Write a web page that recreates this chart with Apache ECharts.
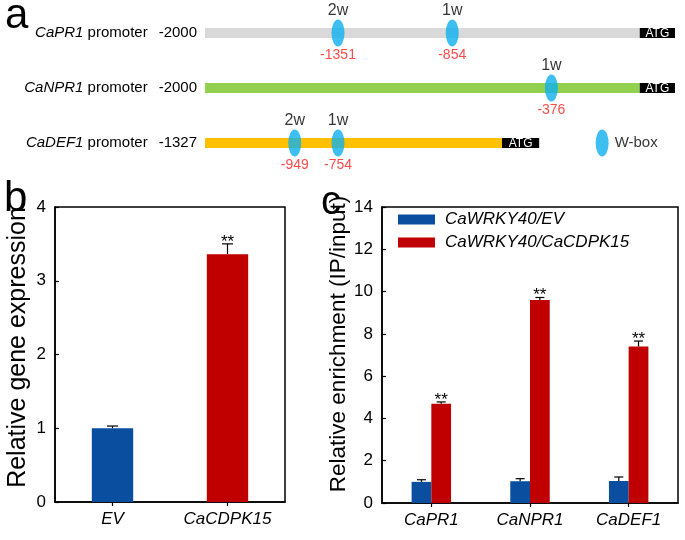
<!DOCTYPE html>
<html><head><meta charset="utf-8">
<script src="https://cdn.jsdelivr.net/npm/echarts@6/dist/echarts.min.js"></script>
<style>html,body{margin:0;padding:0;background:#fff}#c{width:685px;height:540px}</style>
</head><body><div id="c"></div>
<script>
// ---------- Panel a (schematic promoter map, positions in schematic units 0-100) ----------
const promoters = ['CaPR1', 'CaNPR1', 'CaDEF1'];
const promoterStart = ['-2000', '-2000', '-1327'];
const promoterEnd = [92.5, 92.5, 63.2];   // where ATG begins
const atgEnd = [100, 100, 71.1];
const wboxRow = [0, 0, 1, 2, 2];
const wboxPos = [28.3, 52.6, 73.7, 19.1, 28.3];
const wboxName = ['2w', '1w', '1w', '2w', '1w'];
const wboxSite = ['-1351', '-854', '-376', '-949', '-754'];
const wboxKeyPos = [84.5];
const wboxKeyRow = [2];
const wboxKeyLabel = ['W-box'];

// ---------- Panel b ----------
const groupsB = ['EV', 'CaCDPK15'];
const exprB = [1.00, 3.36];
const errB = [0.03, 0.14];
const sigB = ['', '**'];

// ---------- Panel c ----------
const genesC = ['CaPR1', 'CaNPR1', 'CaDEF1'];
const seriesNamesC = ['CaWRKY40/EV', 'CaWRKY40/CaCDPK15'];
const evC = [1.00, 1.03, 1.04];
const evErrC = [0.10, 0.12, 0.19];
const cdpkC = [4.70, 9.60, 7.40];
const cdpkErrC = [0.08, 0.12, 0.26];
const sigEvC = ['', '', ''];
const sigCdpkC = ['**', '**', '**'];

const FONT = '"Liberation Sans", Arial, Helvetica, sans-serif';
const rowColors = ['#d9d9d9', '#92d050', '#ffc000'];
const BLUE = '#0a4f9f', RED = '#c00000', WBOX = '#0db0ee';
const barColorsB = [BLUE, RED];

const chart = echarts.init(document.getElementById('c'), null, { renderer: 'canvas' });

function makeErr(gi, vals, errs, sigs, offsetFrac, capW) {
  return {
    type: 'custom', xAxisIndex: gi, yAxisIndex: gi, z: 5,
    encode: { x: 0, y: [1, 2] },
    data: vals.map((v, i) => [i, v, errs[i]]),
    renderItem(params, api) {
      const i = api.value(0), v = api.value(1), e = api.value(2);
      const band = api.size([1, 0])[0];
      const dx = band * offsetFrac;
      const b = api.coord([i, v]), t = api.coord([i, v + e]);
      const x = b[0] + dx;
      const children = [
        { type: 'line', shape: { x1: x, y1: b[1], x2: x, y2: t[1] }, style: { stroke: '#000', lineWidth: 1.2 } },
        { type: 'line', shape: { x1: x - capW / 2, y1: t[1], x2: x + capW / 2, y2: t[1] }, style: { stroke: '#000', lineWidth: 1.2 } }
      ];
      const s = sigs[params.dataIndex];
      if (s) children.push({ type: 'text', style: { text: s, x: x, y: t[1] - 2, align: 'center', verticalAlign: 'middle', font: '17px ' + FONT, fill: '#000' } });
      return { type: 'group', children };
    }
  };
}

const valueAxisCommon = {
  type: 'value',
  axisLine: { show: true, lineStyle: { color: '#000', width: 1.5 } },
  axisTick: { show: true, inside: true, length: 4, lineStyle: { color: '#000', width: 1.2 } },
  splitLine: { show: false },
  axisLabel: { color: '#000', fontSize: 17, fontFamily: FONT, margin: 9 },
  nameLocation: 'middle'
};
const catAxisCommon = {
  type: 'category',
  axisLine: { show: true, lineStyle: { color: '#000', width: 1.5 } },
  axisTick: { show: true, alignWithLabel: true, length: 4, lineStyle: { color: '#000', width: 1.2 } },
  axisLabel: { color: '#000', fontSize: 17, fontStyle: 'italic', fontFamily: FONT, margin: 9 }
};

const option = {
  animation: false,
  backgroundColor: '#fff',
  textStyle: { fontFamily: FONT },
  grid: [
    { left: 205, right: 10, top: 5.5, height: 165 },
    { left: 55, width: 230, top: 207, height: 295, show: true, borderColor: '#000', borderWidth: 1.5, backgroundColor: 'transparent' },
    { left: 382, width: 296, top: 207, height: 296, show: true, borderColor: '#000', borderWidth: 1.5, backgroundColor: 'transparent' }
  ],
  xAxis: [
    { type: 'value', gridIndex: 0, min: 0, max: 100, show: false },
    Object.assign({}, catAxisCommon, { gridIndex: 1, data: groupsB }),
    Object.assign({}, catAxisCommon, { gridIndex: 2, data: genesC })
  ],
  yAxis: [
    {
      type: 'category', gridIndex: 0, inverse: true, data: promoters,
      axisLine: { show: false }, axisTick: { show: false }, splitLine: { show: false },
      axisLabel: {
        margin: 8, color: '#000',
        formatter: (v, idx) => `{i|${v}}{n| promoter}{g|${promoterStart[idx]}}`,
        rich: {
          i: { fontStyle: 'italic', fontSize: 15, fontFamily: FONT, color: '#000' },
          n: { fontSize: 15, fontFamily: FONT, color: '#000' },
          g: { fontSize: 15, fontFamily: FONT, color: '#000', padding: [0, 0, 0, 11] }
        }
      }
    },
    Object.assign({}, valueAxisCommon, {
      gridIndex: 1, min: 0, max: 4, interval: 1,
      name: 'Relative gene expression', nameGap: 24,
      nameTextStyle: { fontSize: 25, color: '#000', fontFamily: FONT, padding: [0, 0, 0, 14] }
    }),
    Object.assign({}, valueAxisCommon, {
      gridIndex: 2, min: 0, max: 14, interval: 2,
      name: 'Relative enrichment (IP/input)', nameGap: 28,
      nameTextStyle: { fontSize: 22.5, color: '#000', fontFamily: FONT, padding: [0, 0, 0, 22] }
    })
  ],
  legend: {
    data: seriesNamesC, orient: 'vertical', left: 398, top: 211, padding: 0,
    itemWidth: 37, itemHeight: 10, itemGap: 6, icon: 'rect',
    textStyle: { fontSize: 17, fontStyle: 'italic', color: '#000', fontFamily: FONT, padding: [0, 0, 0, 5] }
  },
  graphic: [
    { type: 'text', x: 5, y: 16.5, style: { text: 'a', font: '42px ' + FONT, fill: '#000', verticalAlign: 'middle' } },
    { type: 'text', x: 4, y: 199.5, style: { text: 'b', font: '42px ' + FONT, fill: '#000', verticalAlign: 'middle' } },
    { type: 'text', x: 321, y: 202.5, style: { text: 'c', font: '40px ' + FONT, fill: '#000', verticalAlign: 'middle' } }
  ],
  series: [
    // promoter bars with ATG boxes
    {
      type: 'custom', xAxisIndex: 0, yAxisIndex: 0, z: 1,
      encode: { x: [0, 1, 2], y: 3 },
      data: promoters.map((p, i) => [0, promoterEnd[i], atgEnd[i], i]),
      renderItem(params, api) {
        const r = api.value(3);
        const s = api.coord([api.value(0), r]);
        const e = api.coord([api.value(1), r]);
        const a = api.coord([api.value(2), r]);
        const h = 10;
        return {
          type: 'group', children: [
            { type: 'rect', shape: { x: s[0], y: s[1] - h / 2, width: e[0] - s[0], height: h }, style: { fill: rowColors[r] } },
            { type: 'rect', shape: { x: e[0], y: s[1] - h / 2, width: a[0] - e[0], height: h }, style: { fill: '#000' } },
            { type: 'text', style: { text: 'ATG', x: (e[0] + a[0]) / 2, y: s[1] + 0.5, align: 'center', verticalAlign: 'middle', font: '12px ' + FONT, fill: '#fff' } }
          ]
        };
      }
    },
    // W-box ellipses with names above
    {
      type: 'scatter', xAxisIndex: 0, yAxisIndex: 0, z: 3,
      symbol: 'circle', symbolSize: [13, 27], itemStyle: { color: WBOX },
      data: wboxPos.map((x, i) => ({ value: [x, wboxRow[i]], name: wboxName[i] })),
      label: { show: true, position: 'top', distance: 1, formatter: '{b}', color: '#000', fontSize: 16, fontFamily: FONT }
    },
    // W-box site positions below (red)
    {
      type: 'scatter', xAxisIndex: 0, yAxisIndex: 0, z: 2,
      symbol: 'circle', symbolSize: [13, 27], itemStyle: { color: 'rgba(0,0,0,0)' },
      data: wboxPos.map((x, i) => ({ value: [x, wboxRow[i]], name: wboxSite[i] })),
      label: { show: true, position: 'bottom', distance: 2, formatter: '{b}', color: '#ff1a1a', fontSize: 14, fontFamily: FONT }
    },
    // W-box key
    {
      type: 'scatter', xAxisIndex: 0, yAxisIndex: 0, z: 3,
      symbol: 'circle', symbolSize: [13, 27], itemStyle: { color: WBOX },
      data: wboxKeyPos.map((x, i) => ({ value: [x, wboxKeyRow[i]], name: wboxKeyLabel[i] })),
      label: { show: true, position: 'right', distance: 6, formatter: '{b}', color: '#000', fontSize: 15, fontFamily: FONT }
    },
    // Panel b bars
    {
      type: 'bar', xAxisIndex: 1, yAxisIndex: 1, barWidth: '36%',
      data: exprB.map((v, i) => ({ value: v, itemStyle: { color: barColorsB[i] } }))
    },
    makeErr(1, exprB, errB, sigB, 0, 11),
    // Panel c bars
    {
      type: 'bar', name: seriesNamesC[0], xAxisIndex: 2, yAxisIndex: 2, barWidth: '20%', barGap: '0%',
      itemStyle: { color: BLUE }, data: evC
    },
    {
      type: 'bar', name: seriesNamesC[1], xAxisIndex: 2, yAxisIndex: 2, barWidth: '20%', barGap: '0%',
      itemStyle: { color: RED }, data: cdpkC
    },
    makeErr(2, evC, evErrC, sigEvC, -0.1, 9),
    makeErr(2, cdpkC, cdpkErrC, sigCdpkC, 0.1, 9)
  ]
};
chart.setOption(option);
</script>
</body></html>
